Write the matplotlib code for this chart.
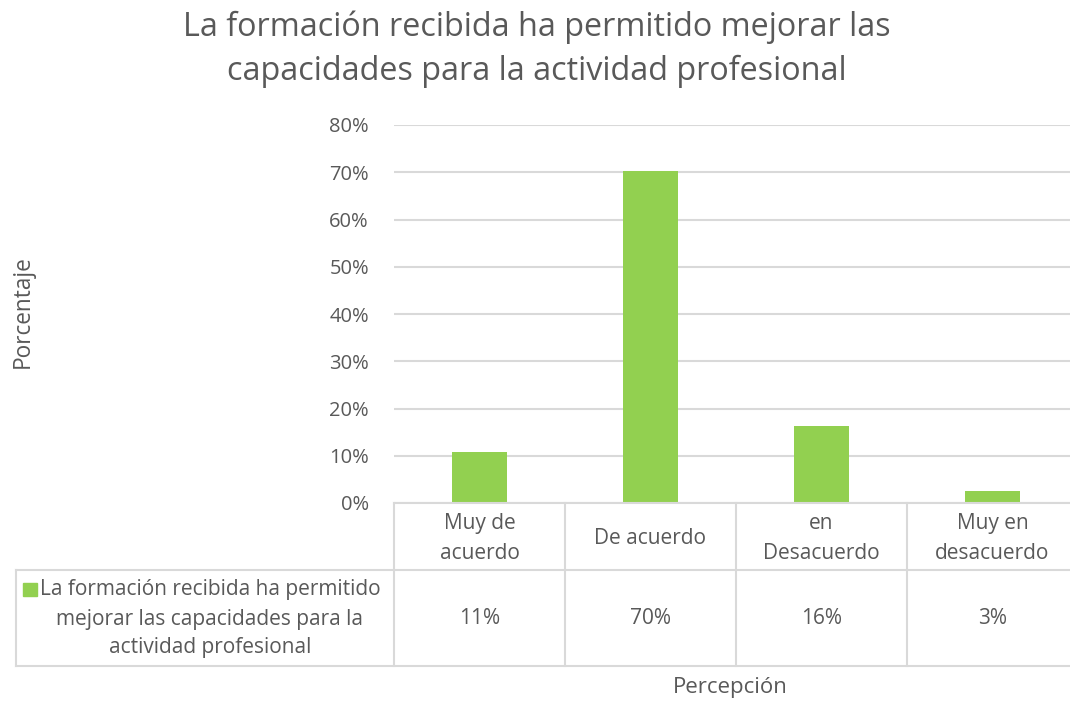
import matplotlib
matplotlib.use("Agg")
import matplotlib.pyplot as plt
from matplotlib.lines import Line2D
from matplotlib.patches import Rectangle

# Data
categories = ["Muy de\nacuerdo", "De acuerdo", "en\nDesacuerdo", "Muy en\ndesacuerdo"]
values = [0.107, 0.702, 0.164, 0.026]
series_name = "La formación recibida ha permitido\nmejorar las capacidades para la\nactividad profesional"
yticks = [0, 0.1, 0.2, 0.3, 0.4, 0.5, 0.6, 0.7, 0.8]
title_lines = ["La formación recibida ha permitido mejorar las",
               "capacidades para la actividad profesional"]

GREEN = "#92D050"
TEXT = "#595959"
GRID = "#D9D9D9"
W, H = 1070, 704
FS = 15

plt.rcParams["font.family"] = ["Open Sans", "DejaVu Sans"]

fig = plt.figure(figsize=(W / 100, H / 100), dpi=100)

# Plot area in pixel terms
left, right, top, bottom = 394, 1078, 125, 503
ax = fig.add_axes([left / W, 1 - bottom / H, (right - left) / W, (bottom - top) / H])
x = list(range(len(categories)))
ax.bar(x, values, width=0.32, color=GREEN, zorder=3)
ax.set_xlim(-0.5, len(categories) - 0.5)
ax.set_ylim(0, 0.8)
ax.set_yticks(yticks)
ax.set_yticklabels([f"{t:.0%}" for t in yticks], fontsize=14.5, color=TEXT)
ax.tick_params(axis="y", length=0, pad=18)
ax.set_xticks([])
ax.grid(axis="y", color=GRID, linewidth=1.5, zorder=0)
for s in ax.spines.values():
    s.set_visible(False)

# Overlay in pixel coordinates for the data table and labels
ov = fig.add_axes([0, 0, 1, 1], zorder=5)
ov.set_xlim(0, W)
ov.set_ylim(H, 0)
ov.axis("off")
ov.patch.set_alpha(0)

colw = (right - left) / len(categories)
edges = [left + i * colw for i in range(len(categories) + 1)]
row1_top, row1_bot, row2_bot = bottom, 570, 666
leg_left = 16
lw = 1.5

def hline(x0, x1, y):
    ov.add_line(Line2D([x0, x1], [y, y], color=GRID, lw=lw, clip_on=False))

def vline(xx, y0, y1):
    ov.add_line(Line2D([xx, xx], [y0, y1], color=GRID, lw=lw, clip_on=False))

hline(left, right, row1_top)
hline(leg_left, right, row1_bot)
hline(leg_left, right, row2_bot)
for e in edges:
    vline(e, row1_top, row2_bot)
vline(leg_left, row1_bot, row2_bot)

for i, (cat, v) in enumerate(zip(categories, values)):
    cx = (edges[i] + edges[i + 1]) / 2
    ov.text(cx, (row1_top + row1_bot) / 2 + 2, cat, ha="center", va="center",
            fontsize=FS, color=TEXT, linespacing=1.55)
    ov.text(cx, (row1_bot + row2_bot) / 2 + 1, f"{v:.0%}", ha="center", va="center",
            fontsize=FS, color=TEXT)

# Legend key and series name
ov.add_patch(Rectangle((23, 583), 14, 13, color=GREEN))
ov.text(210, (row1_bot + row2_bot) / 2 + 1, series_name, ha="center", va="center",
        fontsize=FS, color=TEXT, linespacing=1.5)

# Title, one line at a time on fixed baselines
for line, base in zip(title_lines, [36, 80]):
    ov.text(537, base, line, ha="center", va="baseline", fontsize=23.3, color=TEXT)

# Axis titles
ov.text(23, 312, "Porcentaje", ha="center", va="center", rotation=90, fontsize=16.3, color=TEXT)
ov.text(730, 688, "Percepción", ha="center", va="center", fontsize=16, color=TEXT)

fig.savefig("out.png", dpi=100)
